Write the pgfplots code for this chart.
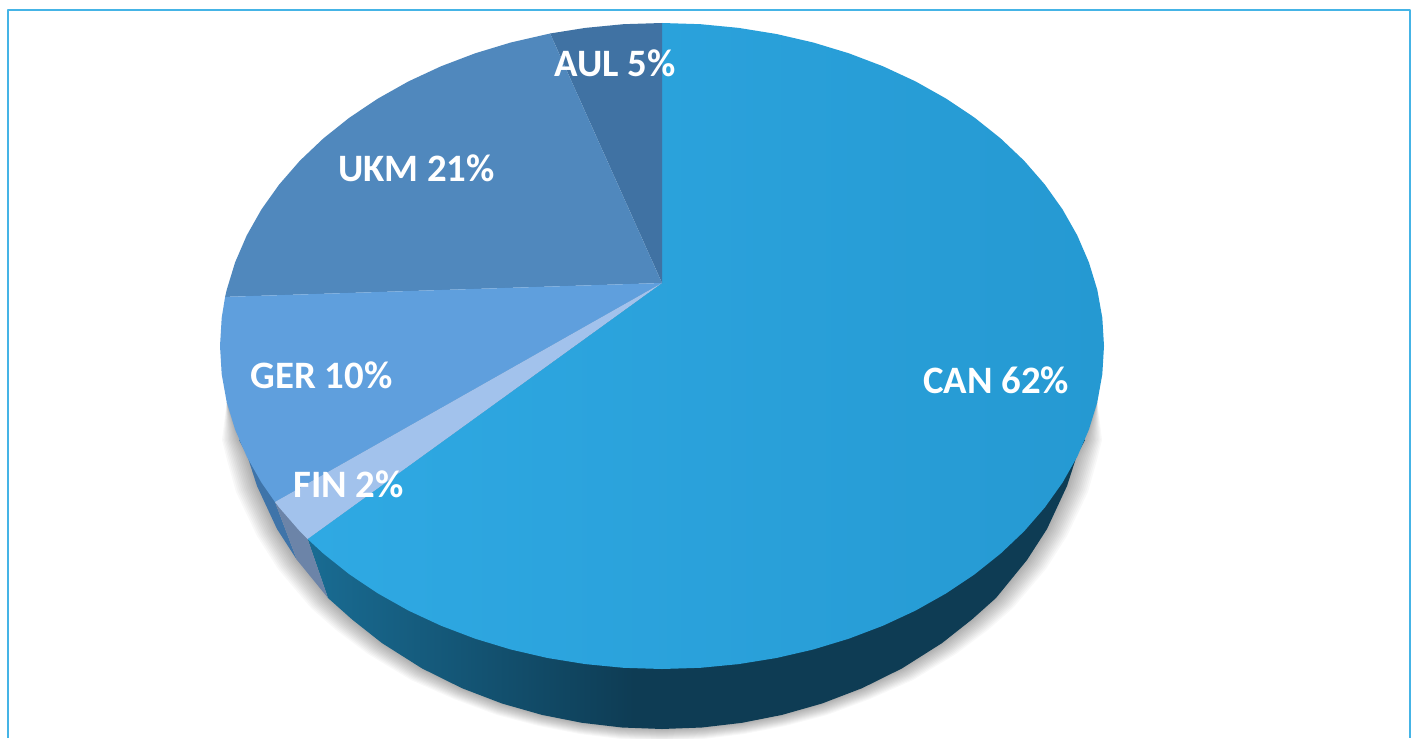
\documentclass[border=0pt]{standalone}
\usepackage{pgfplots}
\usepackage{pgfplotstable}
\usepackage{fontspec}
\setmainfont{Carlito}
\pgfplotsset{compat=1.18}
\definecolor{canA}{HTML}{2FA9E3}
\definecolor{canB}{HTML}{2599D2}
\definecolor{ukm}{HTML}{5088BD}
\definecolor{aul}{HTML}{4072A3}
\definecolor{ger}{HTML}{5F9FDD}
\definecolor{fin}{HTML}{A2C2EC}
\definecolor{sideA}{HTML}{196C93}
\definecolor{sideB}{HTML}{0E3C54}
\definecolor{sideF}{HTML}{6C84A8}
\definecolor{sideG}{HTML}{3F74A9}
\definecolor{frame}{HTML}{45B4E6}
\pgfdeclarehorizontalshading{sideshade}{100bp}{color(0bp)=(sideA); color(25bp)=(sideA); color(46bp)=(sideB); color(100bp)=(sideB)}
\pgfplotstableread{
x y ox oy
1097.3 402 1097.3 402
1085 440 1102 440
1077 455 1097 460
1067 486 1088 492
1047 529 1067 536
1027 560 1046 569
996 598 1013 608
972 619.4 988 630
942 643.1 956 654
902 668.4 913 680
862 688.2 870 699
822 703.5 827 715
782 714.9 785 726
742 722.8 744 734
702 727.5 703 739
662 729 662 741
622 727.5 621 739
582 722.8 580 734
542 714.9 539 726
502 703.5 497 715
462 688.2 454 699
422 668.4 411 680
382 643.1 368 654
352 619.4 336 630
328 598 311 608
297 560 278 569
277 529 257 536
257 486 236 492
247 455 227 460
239 440 222 440
226.7 402 226.7 402
662 283 662 283
}\shadowtab
\begin{document}
\begin{tikzpicture}
\begin{axis}[
  scale only axis, width=708.5pt, height=369pt,
  xmin=0, xmax=1417, ymin=0, ymax=738, y dir=reverse,
  hide axis, clip=true,
  every axis plot/.append style={forget plot, no markers, line join=round},
]
\addplot [draw=none, fill=white] coordinates {(0,0) (1417,0) (1417,738) (0,738)} --cycle;
% soft shadow
\pgfplotsinvokeforeach{12,11,...,1}{
  \addplot [draw=none, fill=black, fill opacity=0.027]
    table [x expr=\thisrow{x}+(\thisrow{ox}-\thisrow{x})*#1/12, y expr=\thisrow{y}+(\thisrow{oy}-\thisrow{y})*#1/12] {\shadowtab} --cycle;
}
% sides
\addplot [draw=none, shading=sideshade] coordinates {
(1085,440) (1077,455) (1067,486) (1047,529) (1027,560) (996,598) (972,619.4) (942,643.1) (902,668.4) (862,688.2) (822,703.5) (782,714.9) (742,722.8) (702,727.5) (662,729) (622,727.5) (582,722.8) (542,714.9) (502,703.5) (462,688.2) (422,668.4) (382,643.1) (352,619.4) (328,598) (307.6,539) (662,283)} --cycle;
\addplot [draw=none, fill=sideG] coordinates {
(239,440) (247,455) (257,486) (277,529) (297,560) (275,502) (662,283)} --cycle;
\addplot [draw=none, fill=sideF] coordinates {
(275,502) (297,560) (328,598) (307.6,539)} --cycle;
% top: slices
\addplot [draw=none, left color=canA, right color=canB] coordinates {
(662,283) (662,23) (700.5,24.2) (738.7,27.9) (776.4,34) (813.2,42.5) (848.8,53.3) (883,66.3) (915.5,81.4) (946.1,98.6) (974.5,117.6) (1000.6,138.4) (1024.1,160.7) (1044.8,184.5) (1062.6,209.5) (1077.3,235.5) (1088.9,262.4) (1097.3,289.9) (1102.3,317.8) (1104,346)
(1102.3,374.2) (1097.3,402.1) (1088.9,429.6) (1077.3,456.5) (1062.6,482.5) (1044.8,507.5) (1024.1,531.3) (1000.6,553.6) (974.5,574.4) (946.1,593.4) (915.5,610.6) (883,625.7) (848.8,638.7) (813.2,649.5) (776.4,658) (738.7,664.1) (700.5,667.8) (662,669) (623.5,667.8) (585.3,664.1) (547.6,658) (510.8,649.5) (475.2,638.7) (441,625.7) (408.5,610.6) (377.9,593.4) (349.5,574.4) (323.4,553.6) (307.6,539)} --cycle;
\addplot [draw=none, fill=aul] coordinates {
(662,283) (662,23) (623.5,24.2) (585.3,27.9) (550.1,33.5)} --cycle;
\addplot [draw=none, fill=ukm] coordinates {
(662,283) (550.1,33.5) (510.8,42.5) (475.2,53.3) (441,66.3) (408.5,81.4) (377.9,98.6) (349.5,117.6) (323.4,138.4) (299.9,160.7) (279.2,184.5) (261.4,209.5) (246.7,235.5) (235.1,262.4) (226.7,289.9) (225.1,296.9)} --cycle;
\addplot [draw=none, fill=ger] coordinates {
(662,283) (225.1,296.9) (221.7,317.8) (220,346) (221.7,374.2) (226.7,402.1) (235.1,429.6) (246.7,456.5) (261.4,482.5) (275,502)} --cycle;
\addplot [draw=none, fill=fin] coordinates {
(662,283) (275,502) (279.2,507.5) (299.9,531.3) (307.6,539)} --cycle;
% frame
\addplot [draw=frame, line width=0.8pt] coordinates {(8,738) (8,10) (1410,10) (1410,738)};
% labels
\node [text=white, font=\fontsize{19.4}{19.4}\selectfont\bfseries] at (axis cs:996,380) {CAN 62\%};
\node [text=white, font=\fontsize{19.4}{19.4}\selectfont\bfseries] at (axis cs:321.5,375) {GER 10\%};
\node [text=white, font=\fontsize{19.4}{19.4}\selectfont\bfseries] at (axis cs:348.5,484) {FIN 2\%};
\node [text=white, font=\fontsize{19.4}{19.4}\selectfont\bfseries] at (axis cs:416.5,168) {UKM 21\%};
\node [text=white, font=\fontsize{19.4}{19.4}\selectfont\bfseries] at (axis cs:615,63) {AUL 5\%};
\end{axis}
\end{tikzpicture}
\end{document}
